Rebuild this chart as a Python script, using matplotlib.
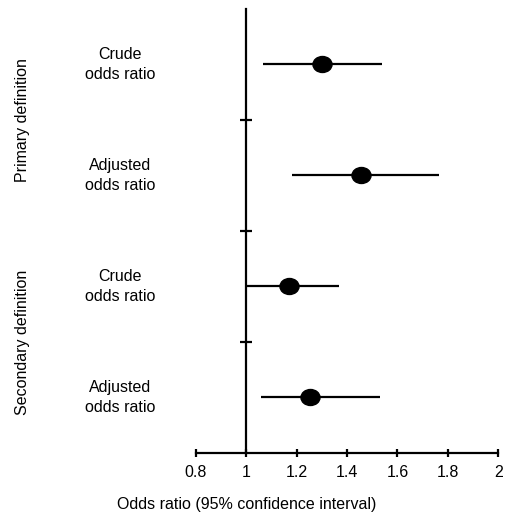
import matplotlib
matplotlib.use("Agg")
import matplotlib.pyplot as plt
import numpy as np
from matplotlib.path import Path
from matplotlib.transforms import blended_transform_factory

plt.rcParams['font.family'] = ['Liberation Sans', 'DejaVu Sans']

row_labels = ["Crude\nodds ratio", "Adjusted\nodds ratio", "Crude\nodds ratio", "Adjusted\nodds ratio"]
group_labels = ["Primary definition", "Secondary definition"]
odds_ratio = [1.30, 1.455, 1.17, 1.255]
ci_low = [1.065, 1.18, 1.00, 1.057]
ci_high = [1.54, 1.765, 1.367, 1.53]
x_ticks = [0.8, 1, 1.2, 1.4, 1.6, 1.8, 2]
x_tick_labels = ["0.8", "1", "1.2", "1.4", "1.6", "1.8", "2"]
x_label = "Odds ratio (95% confidence interval)"

fig = plt.figure(figsize=(5.15, 5.17), dpi=100)
ax = fig.add_axes([0.380, 0.1238, 0.5876, 0.8588])

ypos = np.arange(len(odds_ratio))

circ = Path.unit_circle()
ell = Path(circ.vertices * np.array([1.0, 0.84]), circ.codes)

ax.hlines(ypos, ci_low, ci_high, color='black', lw=1.6)
ax.plot(odds_ratio, ypos, linestyle='none', marker=ell, markersize=13.7,
        color='black')

ax.set_xlim(0.8, 2)
ax.set_ylim(3.5, -0.5)
ax.spines['top'].set_visible(False)
ax.spines['right'].set_visible(False)
ax.spines['left'].set_position(('data', 1))
for s in ['left', 'bottom']:
    ax.spines[s].set_linewidth(1.6)

ax.set_xticks(x_ticks)
ax.set_xticklabels(x_tick_labels, fontsize=11.5)
ax.tick_params(axis='x', direction='inout', length=6, width=1.6, pad=6)
ax.set_yticks([0.5, 1.5, 2.5])
ax.set_yticklabels([])
ax.tick_params(axis='y', direction='inout', length=8, width=1.6)

trans = blended_transform_factory(fig.transFigure, ax.transData)
for y, lab in zip(ypos, row_labels):
    ax.text(120 / 515, y, lab, transform=trans, ha='center', va='center',
            multialignment='center', fontsize=11.5, linespacing=1.4)

for y, lab in zip([0.5, 2.5], group_labels):
    ax.text(23 / 515, y, lab, transform=trans, ha='center', va='center',
            rotation=90, fontsize=11.5)

fig.text(247 / 515, 1 - 505 / 517, x_label, ha='center', va='center', fontsize=11.5)

fig.savefig("out.png", dpi=100)
